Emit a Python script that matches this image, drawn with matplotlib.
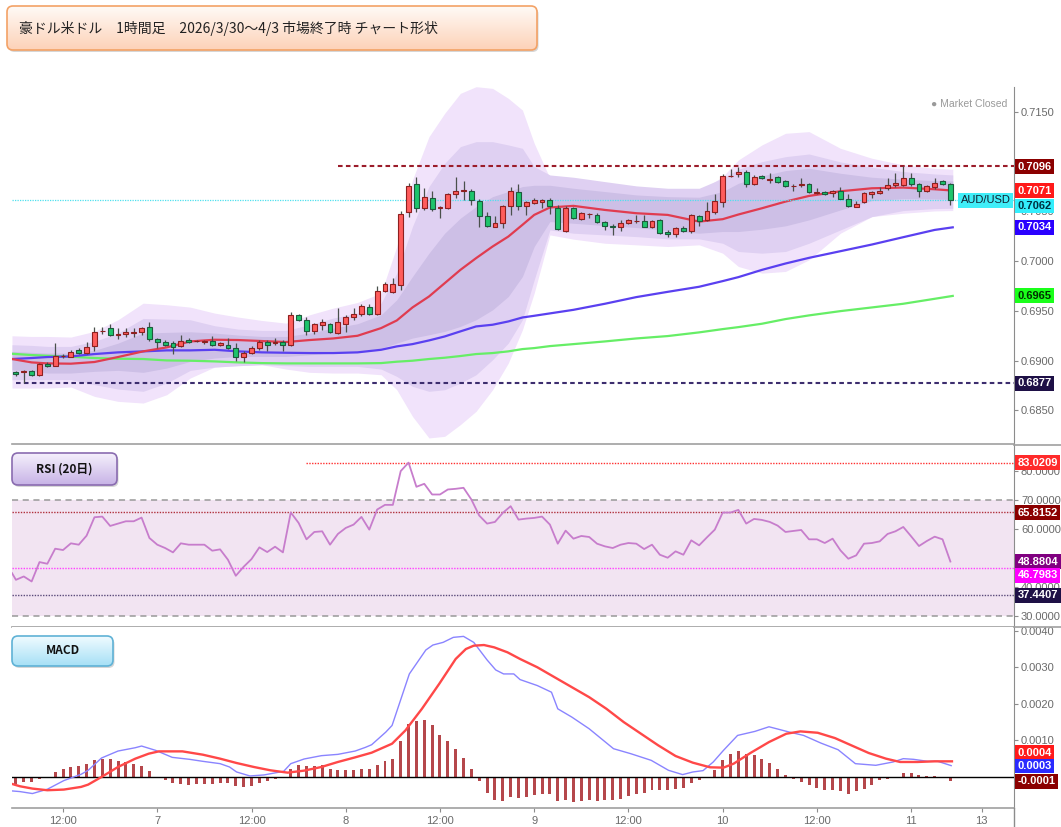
import numpy as np
import matplotlib
matplotlib.use("Agg")
import matplotlib.pyplot as plt
from matplotlib.patches import FancyBboxPatch
from matplotlib.colors import LinearSegmentedColormap
from matplotlib.ticker import FuncFormatter

plt.rcParams['font.family'] = ['Liberation Sans', 'Noto Sans CJK JP', 'DejaVu Sans']

# ---------------- data ----------------
title = "豪ドル米ドル　1時間足　2026/3/30～4/3 市場終了時 チャート形状"

opens = [0.68884, 0.68881, 0.68897, 0.68851, 0.68968, 0.68948, 0.69042, 0.69038, 0.69105, 0.69075,
         0.69142, 0.69293, 0.69323, 0.69259, 0.69269, 0.69279, 0.69286, 0.69333, 0.69212, 0.69189,
         0.69172, 0.69145, 0.69209, 0.69192, 0.69186, 0.69196, 0.69156, 0.69156, 0.69122, 0.69035,
         0.69075, 0.69122, 0.69186, 0.69176, 0.69189, 0.69156, 0.69460, 0.69410, 0.69296, 0.69356,
         0.69363, 0.69276, 0.69366, 0.69437, 0.69464, 0.69537, 0.69467, 0.69698, 0.69688, 0.69758,
         0.70499, 0.70777, 0.70539, 0.70636, 0.70536, 0.70532, 0.70673, 0.70706, 0.70706, 0.70603,
         0.70452, 0.70348, 0.70388, 0.70552, 0.70696, 0.70559, 0.70589, 0.70596, 0.70616, 0.70536,
         0.70308, 0.70532, 0.70422, 0.70472, 0.70465, 0.70392, 0.70355, 0.70341, 0.70382, 0.70405,
         0.70405, 0.70348, 0.70415, 0.70291, 0.70271, 0.70331, 0.70304, 0.70452, 0.70415, 0.70499,
         0.70599, 0.70854, 0.70874, 0.70901, 0.70773, 0.70857, 0.70817, 0.70851, 0.70807, 0.70757,
         0.70770, 0.70773, 0.70690, 0.70700, 0.70683, 0.70710, 0.70626, 0.70549, 0.70593, 0.70680,
         0.70683, 0.70733, 0.70763, 0.70770, 0.70840, 0.70773, 0.70710, 0.70750, 0.70807, 0.70777]
highs = [0.68897, 0.68901, 0.68908, 0.68974, 0.68981, 0.69176, 0.69068, 0.69102, 0.69125, 0.69182,
         0.69336, 0.69336, 0.69367, 0.69330, 0.69326, 0.69326, 0.69336, 0.69383, 0.69226, 0.69202,
         0.69192, 0.69256, 0.69222, 0.69209, 0.69209, 0.69243, 0.69189, 0.69226, 0.69176, 0.69092,
         0.69142, 0.69206, 0.69209, 0.69226, 0.69209, 0.69484, 0.69470, 0.69437, 0.69377, 0.69417,
         0.69377, 0.69527, 0.69460, 0.69524, 0.69571, 0.69571, 0.69745, 0.69795, 0.69829, 0.70506,
         0.70784, 0.70851, 0.70740, 0.70707, 0.70556, 0.70690, 0.70844, 0.70807, 0.70723, 0.70623,
         0.70499, 0.70455, 0.70566, 0.70750, 0.70777, 0.70609, 0.70633, 0.70626, 0.70633, 0.70566,
         0.70556, 0.70549, 0.70499, 0.70489, 0.70482, 0.70402, 0.70375, 0.70415, 0.70422, 0.70469,
         0.70465, 0.70415, 0.70422, 0.70315, 0.70348, 0.70358, 0.70472, 0.70465, 0.70593, 0.70673,
         0.70874, 0.70924, 0.70950, 0.70917, 0.70867, 0.70867, 0.70884, 0.70857, 0.70817, 0.70773,
         0.70840, 0.70790, 0.70733, 0.70710, 0.70717, 0.70743, 0.70676, 0.70609, 0.70693, 0.70703,
         0.70743, 0.70834, 0.70891, 0.70960, 0.70884, 0.70784, 0.70763, 0.70834, 0.70817, 0.70784]
lows = [0.68847, 0.68770, 0.68847, 0.68847, 0.68934, 0.68941, 0.69025, 0.69032, 0.69068, 0.69068,
        0.69092, 0.69269, 0.69243, 0.69216, 0.69236, 0.69236, 0.69259, 0.69192, 0.69125, 0.69142,
        0.69065, 0.69135, 0.69176, 0.69182, 0.69169, 0.69149, 0.69142, 0.69115, 0.68991, 0.68985,
        0.69065, 0.69109, 0.69092, 0.69159, 0.69092, 0.69142, 0.69397, 0.69259, 0.69269, 0.69310,
        0.69276, 0.69263, 0.69286, 0.69410, 0.69450, 0.69460, 0.69457, 0.69691, 0.69678, 0.69712,
        0.70439, 0.70492, 0.70516, 0.70502, 0.70435, 0.70522, 0.70633, 0.70616, 0.70566, 0.70341,
        0.70348, 0.70341, 0.70338, 0.70469, 0.70516, 0.70465, 0.70576, 0.70532, 0.70472, 0.70315,
        0.70298, 0.70425, 0.70415, 0.70435, 0.70382, 0.70315, 0.70261, 0.70308, 0.70375, 0.70388,
        0.70341, 0.70331, 0.70274, 0.70241, 0.70241, 0.70294, 0.70288, 0.70355, 0.70405, 0.70472,
        0.70549, 0.70844, 0.70844, 0.70750, 0.70767, 0.70830, 0.70790, 0.70790, 0.70743, 0.70710,
        0.70743, 0.70690, 0.70676, 0.70666, 0.70650, 0.70623, 0.70549, 0.70546, 0.70583, 0.70633,
        0.70673, 0.70717, 0.70750, 0.70757, 0.70760, 0.70650, 0.70693, 0.70723, 0.70763, 0.70566]
closes = [0.68861, 0.68894, 0.68851, 0.68964, 0.68948, 0.69048, 0.69048, 0.69085, 0.69075, 0.69139,
          0.69286, 0.69296, 0.69253, 0.69269, 0.69286, 0.69286, 0.69323, 0.69212, 0.69186, 0.69152,
          0.69139, 0.69196, 0.69189, 0.69196, 0.69192, 0.69156, 0.69176, 0.69122, 0.69035, 0.69075,
          0.69122, 0.69186, 0.69152, 0.69189, 0.69156, 0.69460, 0.69403, 0.69296, 0.69363, 0.69383,
          0.69283, 0.69383, 0.69437, 0.69470, 0.69544, 0.69470, 0.69698, 0.69772, 0.69768, 0.70475,
          0.70760, 0.70539, 0.70646, 0.70529, 0.70542, 0.70673, 0.70710, 0.70717, 0.70613, 0.70452,
          0.70355, 0.70388, 0.70552, 0.70710, 0.70556, 0.70593, 0.70616, 0.70613, 0.70556, 0.70321,
          0.70532, 0.70435, 0.70482, 0.70475, 0.70392, 0.70355, 0.70341, 0.70382, 0.70412, 0.70408,
          0.70348, 0.70405, 0.70288, 0.70271, 0.70331, 0.70304, 0.70462, 0.70405, 0.70506, 0.70609,
          0.70857, 0.70857, 0.70901, 0.70773, 0.70844, 0.70840, 0.70830, 0.70800, 0.70757, 0.70760,
          0.70773, 0.70700, 0.70700, 0.70676, 0.70707, 0.70629, 0.70559, 0.70576, 0.70683, 0.70693,
          0.70710, 0.70770, 0.70790, 0.70834, 0.70773, 0.70710, 0.70757, 0.70790, 0.70777, 0.70620]

# moving averages and bands, read at sample positions (bar index)
band_x = [-0.5, 2, 4, 7, 10, 13, 16.2, 19.2, 22.2, 25.3, 28.3, 31.3, 34.4, 37.4, 40.4, 43.5, 46.5,
          48.5, 50.5, 52.6, 54.6, 56.6, 58.6, 60.7, 62.7, 64.5, 66, 68, 71, 75, 79, 83, 87, 90, 92,
          95, 98, 101, 105, 109, 113, 117, 119.3]
ma_red = [0.69015, 0.68981, 0.68971, 0.68968, 0.68985, 0.69035, 0.69092, 0.69132, 0.69192, 0.69209,
          0.69206, 0.69196, 0.69186, 0.69206, 0.69222, 0.69249, 0.69326, 0.69403, 0.69534, 0.69644,
          0.69778, 0.69912, 0.70030, 0.70147, 0.70247, 0.70365, 0.70465, 0.70540, 0.70556, 0.70515,
          0.70482, 0.70465, 0.70398, 0.70422, 0.70469, 0.70532, 0.70599, 0.70656, 0.70703, 0.70733,
          0.70740, 0.70723, 0.70710]
ma_blue = [0.69015, 0.69025, 0.69035, 0.69041, 0.69065, 0.69082, 0.69092, 0.69102, 0.69102, 0.69108,
           0.69092, 0.69082, 0.69078, 0.69075, 0.69075, 0.69082, 0.69108, 0.69142, 0.69165, 0.69202,
           0.69242, 0.69293, 0.69343, 0.69360, 0.69393, 0.69433, 0.69450, 0.69474, 0.69510, 0.69571,
           0.69638, 0.69691, 0.69742, 0.69799, 0.69839, 0.69912, 0.69976, 0.70033, 0.70100, 0.70167,
           0.70241, 0.70314, 0.70340]
ma_green = [0.69068, 0.69055, 0.69048, 0.69038, 0.69025, 0.69018, 0.69015, 0.69001, 0.68998, 0.68991,
            0.68981, 0.68974, 0.68971, 0.68971, 0.68971, 0.68971, 0.68974, 0.68988, 0.68998, 0.69015,
            0.69028, 0.69045, 0.69065, 0.69075, 0.69092, 0.69115, 0.69125, 0.69145, 0.69165, 0.69192,
            0.69222, 0.69246, 0.69283, 0.69316, 0.69336, 0.69370, 0.69417, 0.69454, 0.69497, 0.69534,
            0.69571, 0.69621, 0.69650]
outer_up = [0.69249, 0.69242, 0.69242, 0.69236, 0.69293, 0.69410, 0.69577, 0.69561, 0.69537, 0.69477,
            0.69437, 0.69403, 0.69376, 0.69460, 0.69527, 0.69584, 0.69678, 0.70147, 0.70817, 0.71252,
            0.71487, 0.71688, 0.71755, 0.71738, 0.71638, 0.71520, 0.71185, 0.70834, 0.70800, 0.70783,
            0.70750, 0.70716, 0.70700, 0.70850, 0.71018, 0.71169, 0.71286, 0.71303, 0.71135, 0.71035,
            0.70968, 0.70934, 0.70924]
outer_lo = [0.68723, 0.68723, 0.68723, 0.68733, 0.68639, 0.68589, 0.68572, 0.68656, 0.68824, 0.68934,
            0.68948, 0.68958, 0.68914, 0.68881, 0.68874, 0.68874, 0.68857, 0.68706, 0.68438, 0.68221,
            0.68237, 0.68355, 0.68489, 0.68706, 0.68974, 0.69309, 0.69678, 0.70264, 0.70221, 0.70180,
            0.70164, 0.70147, 0.70164, 0.70080, 0.69946, 0.69879, 0.69896, 0.70013, 0.70281, 0.70448,
            0.70482, 0.70505, 0.70509]
mid_up = [0.69159, 0.69152, 0.69142, 0.69142, 0.69192, 0.69276, 0.69423, 0.69417, 0.69410, 0.69350,
          0.69316, 0.69303, 0.69303, 0.69360, 0.69427, 0.69477, 0.69577, 0.69879, 0.70348, 0.70750,
          0.70984, 0.71152, 0.71202, 0.71202, 0.71169, 0.71135, 0.70951, 0.70867, 0.70844, 0.70800,
          0.70757, 0.70733, 0.70733, 0.70834, 0.70924, 0.71001, 0.71051, 0.71078, 0.70998, 0.70944,
          0.70901, 0.70877, 0.70867]
mid_lo = [0.68807, 0.68807, 0.68807, 0.68807, 0.68757, 0.68713, 0.68690, 0.68773, 0.68901, 0.68934,
          0.68948, 0.68958, 0.68948, 0.68941, 0.68941, 0.68941, 0.68914, 0.68840, 0.68740, 0.68690,
          0.68706, 0.68773, 0.68857, 0.69008, 0.69175, 0.69410, 0.69812, 0.70314, 0.70281, 0.70264,
          0.70247, 0.70224, 0.70224, 0.70180, 0.70097, 0.70080, 0.70097, 0.70180, 0.70314, 0.70448,
          0.70509, 0.70529, 0.70532]
inner_up = [0.69092, 0.69082, 0.69075, 0.69075, 0.69102, 0.69175, 0.69276, 0.69283, 0.69289, 0.69276,
            0.69256, 0.69242, 0.69242, 0.69276, 0.69326, 0.69370, 0.69460, 0.69611, 0.69845, 0.70080,
            0.70281, 0.70432, 0.70549, 0.70649, 0.70700, 0.70750, 0.70763, 0.70763, 0.70733, 0.70700,
            0.70666, 0.70649, 0.70643, 0.70700, 0.70783, 0.70857, 0.70911, 0.70934, 0.70884, 0.70844,
            0.70824, 0.70810, 0.70807]
inner_lo = [0.68907, 0.68891, 0.68874, 0.68874, 0.68891, 0.68901, 0.68881, 0.68924, 0.68991, 0.69025,
            0.69041, 0.69041, 0.69041, 0.69058, 0.69075, 0.69092, 0.69125, 0.69175, 0.69226, 0.69259,
            0.69293, 0.69343, 0.69410, 0.69510, 0.69644, 0.69845, 0.70147, 0.70398, 0.70381, 0.70358,
            0.70338, 0.70308, 0.70281, 0.70298, 0.70298, 0.70321, 0.70355, 0.70415, 0.70515, 0.70609,
            0.70629, 0.70626, 0.70622]

high_line = 0.7096
low_line = 0.6877
last_price = 0.7062

# RSI (first value at the left edge, then one per bar)
rsi_x = [-0.5] + list(range(120))
rsi = [44.89,
       42.58, 43.74, 42.01, 48.70, 48.12, 53.32, 52.86, 55.17, 54.70, 57.82,
       64.17, 64.40, 61.17, 61.98, 62.78, 62.78, 64.05, 57.01, 54.70, 53.55,
       52.05, 55.17, 54.70, 54.70, 54.70, 52.63, 53.09, 49.51, 43.97, 47.08,
       49.74, 53.78, 52.16, 54.01, 52.05, 65.82, 62.21, 56.55, 59.09, 59.32,
       54.70, 58.40, 60.48, 61.63, 64.29, 59.90, 66.83, 68.44, 68.44, 80.10,
       83.02, 74.68, 75.71, 72.02, 72.02, 73.75, 73.98, 74.33, 70.29, 64.75,
       61.98, 62.55, 65.67, 67.98, 63.36, 63.71, 63.94, 64.40, 61.63, 55.05,
       59.55, 56.78, 57.71, 57.36, 55.05, 54.13, 53.55, 54.70, 55.28, 55.05,
       53.20, 54.70, 51.24, 50.20, 52.40, 51.24, 56.20, 54.47, 57.24, 59.90,
       65.79, 65.79, 66.71, 61.98, 63.59, 63.25, 62.55, 61.28, 59.09, 59.44,
       59.78, 56.55, 56.55, 55.28, 56.78, 52.74, 49.86, 51.01, 55.05, 55.28,
       55.86, 58.40, 59.32, 60.82, 57.59, 54.24, 55.97, 57.47, 56.55, 48.88]
rsi_levels = [83.0209, 65.8152, 46.7983, 37.4407]
rsi_last = 48.8804

# MACD
macd_x = [-0.5, 0.5, 2.1, 4.0, 6.1, 8.3, 9.2, 10.9, 13.0, 15.2, 16.0, 17.8, 19.9, 22.1, 23.8, 26.0,
          27.2, 28.1, 29.8, 31.6, 34.1, 35.0, 36.7, 38.9, 41.0, 43.2, 44.5, 45.3, 47.1, 47.9, 50.1,
          52.2, 53.1, 54.4, 55.7, 57.0, 58.3, 60.0, 61.1, 62.1, 63.4, 64.2, 66.4, 68.2, 69.0, 70.8,
          73.0, 76.1, 78.3, 80.9, 83.1, 84.9, 86.2, 87.5, 88.8, 90.1, 91.9, 94.1, 95.9, 98.5, 100.3,
          102.5, 104.7, 106.9, 109.5, 111.7, 113.0, 114.3, 116.1, 117.4, 119.1]
macd = [-0.000392, -0.000410, -0.000464, -0.000346, -0.000109, 0.000064, 0.000173, 0.000510,
        0.000701, 0.000792, 0.000838, 0.000719, 0.000528, 0.000474, 0.000419, 0.000355, 0.000264,
        0.000127, 0.000018, 0.000046, 0.000146, 0.000355, 0.000483, 0.000574, 0.000610, 0.000701,
        0.000801, 0.000874, 0.001220, 0.001402, 0.002814, 0.003470, 0.003606, 0.003679, 0.003816,
        0.003843, 0.003679, 0.003197, 0.002923, 0.002814, 0.002814, 0.002659, 0.002495, 0.002313,
        0.001858, 0.001630, 0.001311, 0.000765, 0.000628, 0.000446, 0.000173, 0.000055, 0.000127,
        0.000164, 0.000401, 0.000719, 0.001129, 0.001239, 0.001366, 0.001220, 0.001129, 0.000920,
        0.000737, 0.000355, 0.000310, 0.000401, 0.000492, 0.000474, 0.000419, 0.000419, 0.000301]
signal_x = [-0.5, 0.5, 2.1, 4.0, 6.1, 8.3, 9.2, 10.9, 13.0, 15.2, 16.9, 18.2, 19.9, 21.2, 23.8, 26.0,
            28.1, 30.3, 32.4, 34.6, 36.7, 38.9, 41.0, 43.2, 45.3, 47.9, 49.6, 51.7, 53.9, 56.0, 57.3,
            58.3, 59.6, 60.9, 62.6, 64.2, 66.4, 68.6, 70.8, 73.0, 75.2, 77.4, 79.6, 81.8, 84.0, 86.2,
            88.4, 90.1, 91.4, 93.6, 95.9, 98.1, 99.9, 102.1, 104.3, 106.4, 108.6, 110.8, 112.6, 114.8,
            117.0, 119.2]
signal = [-0.000200, -0.000264, -0.000328, -0.000373, -0.000355, -0.000282, -0.000219, -0.000009,
          0.000264, 0.000492, 0.000628, 0.000692, 0.000692, 0.000692, 0.000601, 0.000492, 0.000373,
          0.000264, 0.000173, 0.000109, 0.000164, 0.000264, 0.000401, 0.000528, 0.000656, 0.000902,
          0.001266, 0.001858, 0.002541, 0.003224, 0.003497, 0.003588, 0.003606, 0.003543, 0.003406,
          0.003224, 0.002996, 0.002723, 0.002450, 0.002177, 0.001858, 0.001494, 0.001175, 0.000856,
          0.000565, 0.000382, 0.000255, 0.000246, 0.000355, 0.000656, 0.000947, 0.001175, 0.001239,
          0.001202, 0.001056, 0.000856, 0.000647, 0.000492, 0.000401, 0.000401, 0.000419, 0.000419]
hist = [-0.000200, -0.000146, -0.000146, -0.000055, -0.000010, 0.000128, 0.000200, 0.000273, 0.000291, 0.000346,
        0.000464, 0.000492, 0.000474, 0.000437, 0.000410, 0.000346, 0.000291, 0.000155, -0.000010, -0.000100,
        -0.000164, -0.000200, -0.000219, -0.000209, -0.000200, -0.000200, -0.000182, -0.000182, -0.000264, -0.000291,
        -0.000246, -0.000173, -0.000118, -0.000055, -0.000027, 0.000200, 0.000328, 0.000301, 0.000301, 0.000310,
        0.000200, 0.000173, 0.000173, 0.000173, 0.000219, 0.000200, 0.000328, 0.000419, 0.000474, 0.000965,
        0.001439, 0.001530, 0.001557, 0.001402, 0.001129, 0.000965, 0.000747, 0.000519, 0.000200, -0.000118,
        -0.000446, -0.000647, -0.000665, -0.000556, -0.000574, -0.000565, -0.000510, -0.000464, -0.000483, -0.000665,
        -0.000647, -0.000692, -0.000665, -0.000647, -0.000656, -0.000647, -0.000628, -0.000601, -0.000528, -0.000464,
        -0.000446, -0.000355, -0.000373, -0.000373, -0.000337, -0.000319, -0.000164, -0.000100, -0.000009, 0.000191,
        0.000446, 0.000610, 0.000701, 0.000628, 0.000583, 0.000492, 0.000382, 0.000219, 0.000055, -0.000055,
        -0.000146, -0.000237, -0.000310, -0.000364, -0.000364, -0.000392, -0.000464, -0.000392, -0.000328, -0.000219,
        -0.000100, -0.000055, 0.000000, 0.000091, 0.000091, 0.000036, 0.000010, 0.000010, 0.000000, -0.000109]

xtick_pos = [6, 18, 30, 42, 54, 66, 78, 90, 102, 114, 123]
xtick_lbl = ["12:00", "7", "12:00", "8", "12:00", "9", "12:00", "10", "12:00", "11", "13"]

# ---------------- figure ----------------
W, H = 1061, 827
fig = plt.figure(figsize=(W / 100, H / 100), dpi=100)
fig.patch.set_facecolor('white')


def rect(x0, y0, x1, y1):
    return [x0 / W, 1 - y1 / H, (x1 - x0) / W, (y1 - y0) / H]


def fmt_hiding(hidden, decimals=4):
    def f(v, pos):
        for hv in hidden:
            if abs(v - hv) < 1e-9:
                return ''
        return '%.*f' % (decimals, v)
    return FuncFormatter(f)


XL = (-0.5, 127.1)
axm = fig.add_axes(rect(12, 87, 1014, 444))
axr = fig.add_axes(rect(12, 445, 1014, 627))
axd = fig.add_axes(rect(12, 627, 1014, 808))
GRAY = '#8c8c8c'
for a in (axm, axr, axd):
    a.set_xlim(*XL)
    a.spines['left'].set_visible(False)
    a.spines['top'].set_visible(False)
    a.spines['right'].set_color(GRAY)
    a.spines['bottom'].set_color('#a0a0a0')
    a.spines['bottom'].set_linewidth(1.2)
    a.yaxis.tick_right()
    a.tick_params(axis='y', direction='out', length=3, width=0.8, color=GRAY,
                  labelsize=8, labelcolor='#6a6a6a', pad=2)
    a.tick_params(axis='x', bottom=False, labelbottom=False)

# ---- main price panel ----
axm.set_ylim(0.68160, 0.71752)
axm.set_yticks(np.round(np.arange(0.6850, 0.71501, 0.005), 4))
axm.yaxis.set_major_formatter(fmt_hiding([0.7100]))

axm.fill_between(band_x, outer_lo, outer_up, color='#f1e3fb', lw=0, zorder=1)
axm.fill_between(band_x, mid_lo, mid_up, color='#dfd0f2', lw=0, zorder=1.1)
axm.fill_between(band_x, inner_lo, inner_up, color='#cdbfe6', lw=0, zorder=1.2)

axm.plot(band_x, ma_green, color='#66ee66', lw=1.6, zorder=2)
axm.plot(band_x, ma_blue, color='#5a40f0', lw=1.6, zorder=2)
axm.plot(band_x, ma_red, color='#e03c50', lw=1.6, zorder=2)

axm.axhline(last_price, color='#4fe0ee', lw=0.9, ls=(0, (1, 1)), zorder=2.4)
axm.hlines(high_line, 41, XL[1], colors='#9b1c2a', lw=1.5, linestyles=(0, (2.2, 1.6)), zorder=2.5)
axm.hlines(low_line, 0, XL[1], colors='#3c2d6e', lw=1.5, linestyles=(0, (2.2, 1.6)), zorder=2.5)

o = np.array(opens); c = np.array(closes); h = np.array(highs); l = np.array(lows)
idx = np.arange(len(o))
up = c >= o
axm.vlines(idx, l, h, color='#4a504c', lw=0.9, zorder=3)
bot = np.minimum(o, c)
hgt = np.abs(c - o)
axm.bar(idx[up], hgt[up], bottom=bot[up], width=0.62, color='#ff5c5c', edgecolor='#8e1f1f',
        lw=0.8, zorder=4)
axm.bar(idx[~up], hgt[~up], bottom=bot[~up], width=0.62, color='#1ec46c', edgecolor='#1d5a3c',
        lw=0.8, zorder=4)


def rlabel(ax, y, text, bg, fg='white', bold=True):
    ax.annotate(text, xy=(1, y), xycoords=('axes fraction', 'data'), xytext=(2.6, 0),
                textcoords='offset points', ha='left', va='center', fontsize=8,
                fontweight='bold' if bold else 'normal', color=fg,
                bbox=dict(boxstyle='square,pad=0.22', fc=bg, ec='none'),
                annotation_clip=False, zorder=10)


rlabel(axm, 0.7095, '0.7096', '#8b0000')
rlabel(axm, 0.7071, '0.7071', '#ff1a1a')
rlabel(axm, 0.70555, '0.7062', '#33eefc', fg='#003040')
rlabel(axm, 0.7034, '0.7034', '#2a00ff')
rlabel(axm, 0.6965, '0.6965', '#1aff1a', fg='#003000')
rlabel(axm, 0.6877, '0.6877', '#1e1046')
axm.annotate('AUD/USD', xy=(1, 0.70612), xycoords=('axes fraction', 'data'), xytext=(-2.5, 0),
             textcoords='offset points', ha='right', va='center', fontsize=8, color='#102030',
             bbox=dict(boxstyle='square,pad=0.25', fc='#40eef8', ec='none'), zorder=10)
axm.text(0.9935, 0.952, '● Market Closed', transform=axm.transAxes, ha='right', va='center',
         fontsize=7.5, color='#9a9a9a', zorder=10)

# ---- RSI panel ----
axr.set_ylim(26.3, 89.1)
axr.set_yticks([30, 40, 50, 60, 70, 80])
axr.yaxis.set_major_formatter(fmt_hiding([50]))
axr.axhspan(30, 70, color='#f2e4f2', lw=0, zorder=0)
axr.axhline(70, color='#999999', lw=1.1, ls=(0, (4, 3)), zorder=1)
axr.axhline(30, color='#999999', lw=1.1, ls=(0, (4, 3)), zorder=1)
axr.hlines(rsi_levels[0], 37, XL[1], colors='#ff3030', lw=1.0, linestyles=(0, (1, 1)), zorder=1.5)
axr.axhline(rsi_levels[1], color='#b0303c', lw=1.0, ls=(0, (1, 1)), zorder=1.5)
axr.axhline(rsi_levels[2], color='#ff40ff', lw=1.0, ls=(0, (1, 1)), zorder=1.5)
axr.axhline(rsi_levels[3], color='#5a4a7a', lw=1.0, ls=(0, (1, 1)), zorder=1.5)
axr.plot(rsi_x, rsi, color='#c77dcc', lw=1.3, zorder=3)
rlabel(axr, 83.02, '83.0209', '#ff2a2a')
rlabel(axr, 65.80, '65.8152', '#8b0000')
rlabel(axr, 48.80, '48.8804', '#800080')
rlabel(axr, 44.10, '46.7983', '#ff00ff')
rlabel(axr, 37.30, '37.4407', '#1e1046')

# ---- MACD panel ----
axd.set_ylim(-0.00086, 0.00410)
axd.set_yticks([0, 0.001, 0.002, 0.003, 0.004])
axd.yaxis.set_major_formatter(fmt_hiding([0.0]))
axd.bar(idx, hist, width=0.38, color='#b5474b', zorder=2)
axd.axhline(0, color='black', lw=1.0, zorder=3)
axd.plot(macd_x, macd, color='#8a84ff', lw=1.0, zorder=4)
axd.plot(signal_x, signal, color='#ff4848', lw=1.7, zorder=4)
rlabel(axd, 0.00066, '0.0004', '#ff1a1a')
rlabel(axd, 0.00029, '0.0003', '#2a2aff')
rlabel(axd, -0.00013, '-0.0001', '#8b0000')
axd.set_xticks(xtick_pos)
axd.set_xticklabels(xtick_lbl)
axd.tick_params(axis='x', bottom=True, labelbottom=True, length=3, color=GRAY, labelsize=8,
                labelcolor='#6a6a6a', pad=3)

# ---- overlay decorations ----
ov = fig.add_axes([0, 0, 1, 1])
ov.set_zorder(20)
ov.patch.set_alpha(0)
ov.axis('off')


def grad_box(x0, y0, x1, y1, ctop, cbot, ec, r=6):
    sh = FancyBboxPatch((x0 + 1.5, y0 + 2), x1 - x0, y1 - y0,
                        boxstyle='round,pad=0,rounding_size=%g' % r, fc='black', alpha=0.16,
                        ec='none', zorder=1)
    ov.add_patch(sh)
    p = FancyBboxPatch((x0, y0), x1 - x0, y1 - y0, boxstyle='round,pad=0,rounding_size=%g' % r,
                       fc='none', ec=ec, lw=1.2, zorder=3)
    ov.add_patch(p)
    cmap = LinearSegmentedColormap.from_list('g', [ctop, cbot])
    im = ov.imshow(np.linspace(0, 1, 64)[:, None], extent=(x0, x1, y1, y0), cmap=cmap,
                   aspect='auto', zorder=2, interpolation='bicubic')
    im.set_clip_path(p)


grad_box(7, 6, 537, 50, '#fffaf6', '#fdd2b8', '#f3a266')
grad_box(12, 453, 117, 485, '#f5f0fc', '#c7b3e6', '#8a6cb0')
grad_box(12, 636, 113, 666, '#f0fbff', '#a6e0f6', '#5fb2d6')
ov.set_xlim(0, W)
ov.set_ylim(H, 0)

ov.text(19, 28, title, fontsize=10, va='center', ha='left', color='#222222',
        family=['Noto Sans CJK JP', 'DejaVu Sans'], zorder=5)
ov.text(64.5, 469, 'RSI (20日)', fontsize=8.5, fontweight='bold', va='center', ha='center',
        color='#111111', family=['Noto Sans CJK JP', 'DejaVu Sans'], zorder=5)
ov.text(62.5, 651, 'MACD', fontsize=8.5, fontweight='bold', va='center', ha='center',
        color='#111111', family=['Noto Sans CJK JP', 'DejaVu Sans'], zorder=5)
# separators continue across the label area, and the right axis line runs to the bottom
ov.plot([1014, W], [444.5, 444.5], color='#a0a0a0', lw=1.2, zorder=0.5)
ov.plot([1014, W], [627, 627], color='#a0a0a0', lw=1.2, zorder=0.5)
ov.plot([1014, 1014], [808, 827], color=GRAY, lw=1, zorder=1)

fig.savefig('out.png', dpi=100, facecolor='white')
